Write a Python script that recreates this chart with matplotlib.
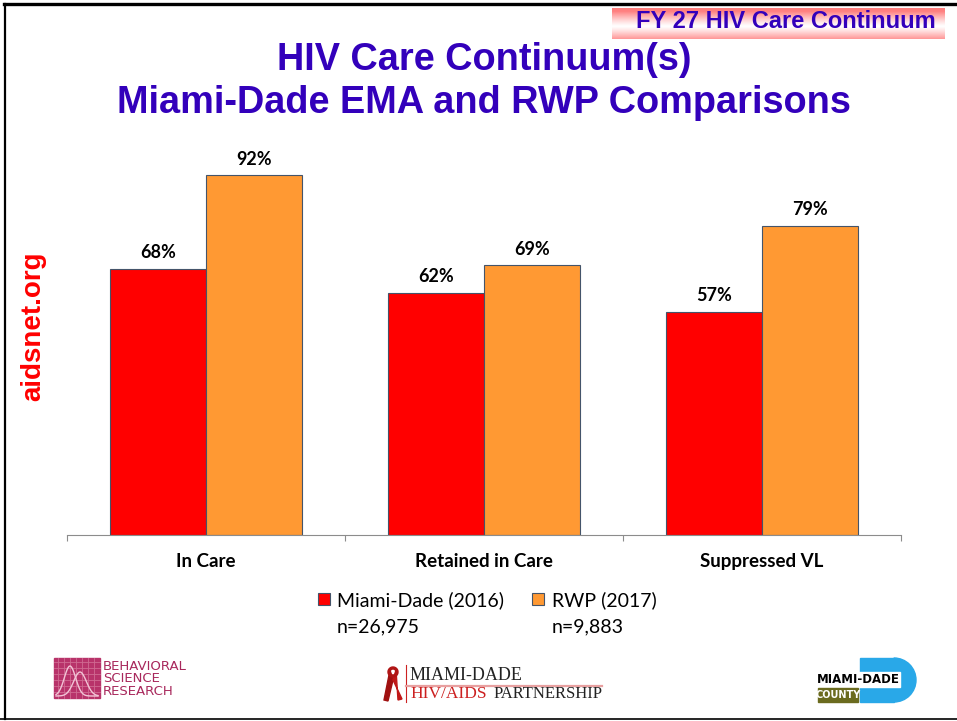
import matplotlib.pyplot as plt
import numpy as np
from matplotlib.patches import Rectangle, Polygon, Wedge
from matplotlib.lines import Line2D

categories = ["In Care", "Retained in Care", "Suppressed VL"]
miami_dade = [68, 62, 57]
rwp = [92, 69, 79]
series_names = ["Miami-Dade (2016)", "RWP (2017)"]
series_n = ["n=26,975", "n=9,883"]

W, H = 957, 721
fig = plt.figure(figsize=(W / 100, H / 100), dpi=100)


def fx(px):
    return px / W


def fy(py):
    return 1 - py / H


# slide frame
fig.add_artist(Line2D([fx(4), 1], [fy(4), fy(4)], color='black', lw=2.4))
fig.add_artist(Line2D([fx(5), fx(5)], [fy(4), fy(719)], color='black', lw=1.6))
fig.add_artist(Line2D([0, 1], [fy(719), fy(719)], color='black', lw=1.2))

# top-right banner with pink gradient
bax = fig.add_axes([fx(612), fy(39), fx(945) - fx(612), fy(8) - fy(39)])
t = np.linspace(0, 1, 60)
k = np.clip(1.2 * np.abs(1 - 1.7 * t), 0, 1)[:, None] ** 1.2
pink = np.array([1.0, 0.5, 0.5])
grad = (1 - k[..., None]) * np.ones(3) + k[..., None] * pink
grad = np.repeat(grad, 2, axis=1)
bax.imshow(grad, aspect='auto', extent=[0, 1, 0, 1])
bax.set_axis_off()
fig.text(fx(786), fy(22), "FY 27 HIV Care Continuum", ha='center', va='center',
         fontsize=17, fontweight='bold', color='#3300BB', family='Liberation Sans')

# titles
fig.text(fx(484), fy(60), "HIV Care Continuum(s)", ha='center', va='center',
         fontsize=27.3, fontweight='bold', color='#3300BB', family='Liberation Sans')
fig.text(fx(484), fy(103), "Miami-Dade EMA and RWP Comparisons", ha='center', va='center',
         fontsize=27.3, fontweight='bold', color='#3300BB', family='Liberation Sans')

fig.text(fx(33), fy(326), "aidsnet.org", rotation=90, ha='center', va='center',
         fontsize=20, fontweight='bold', color='#FF0000', family='Liberation Sans')

# chart
ax = fig.add_axes([fx(67), fy(535), fx(901) - fx(67), fy(144) - fy(535)])
x = np.arange(len(categories))
bw = 0.347
b1 = ax.bar(x - bw / 2, miami_dade, bw, color='#FF0000', edgecolor='#44546A',
            linewidth=0.8, label=series_names[0])
b2 = ax.bar(x + bw / 2, rwp, bw, color='#FF9933', edgecolor='#44546A',
            linewidth=0.8, label=series_names[1])
for bars in (b1, b2):
    for r in bars:
        ax.annotate("%d%%" % r.get_height(), (r.get_x() + r.get_width() / 2, r.get_height()),
                    xytext=(0, 5.5), textcoords='offset points', ha='center', va='bottom',
                    fontsize=13, fontweight='bold', family='Lato', color='black')

ax.set_xlim(-0.5, len(categories) - 0.5)
ax.set_ylim(0, 100)
for s in ('top', 'right', 'left'):
    ax.spines[s].set_visible(False)
ax.spines['bottom'].set_color('#8C8C8C')
ax.set_yticks([])
ax.set_xticks(np.arange(len(categories) + 1) - 0.5)
ax.set_xticklabels([])
ax.tick_params(axis='x', which='major', length=4, color='#8C8C8C', direction='out')
ax.set_xticks(x, minor=True)
ax.set_xticklabels(categories, minor=True, fontsize=13.5, fontweight='bold', family='Lato')
ax.tick_params(axis='x', which='minor', length=0, pad=13)

leg = ax.legend(loc='center', bbox_to_anchor=(fx(487 - 67) / (fx(901) - fx(67)), -0.166),
                ncol=2, frameon=False,
                prop={'family': 'Lato', 'size': 14}, handlelength=0.62, handleheight=0.62,
                handletextpad=0.38, columnspacing=1.45, borderpad=0)

# sample sizes under each legend entry
fig.canvas.draw()
inv = fig.transFigure.inverted()
for txt, n in zip(leg.get_texts(), series_n):
    bb = txt.get_window_extent()
    x0, y0 = inv.transform((bb.x0, bb.y0))
    fig.text(x0, y0 - 27 / H, n, ha='left', va='bottom', fontsize=14, family='Lato')

# logos (approximations)
lax = fig.add_axes([0, 0, 1, 1], zorder=-1)
lax.set_xlim(0, W)
lax.set_ylim(H, 0)
lax.set_axis_off()
lax.add_patch(Rectangle((54, 658), 46, 40, color='#B8336A'))
for gx in range(58, 100, 6):
    lax.add_line(Line2D([gx, gx], [658, 698], color='#D06A92', lw=0.6))
for gy in range(662, 698, 6):
    lax.add_line(Line2D([54, 100], [gy, gy], color='#D06A92', lw=0.6))
xs = np.linspace(56, 98, 60)
lax.plot(xs, 696 - 30 * np.exp(-((xs - 70) / 8) ** 2), color='#F2C4D6', lw=1)
lax.plot(xs, 696 - 24 * np.exp(-((xs - 80) / 9) ** 2), color='#F2C4D6', lw=1)
lax.text(103, 679, "BEHAVIORAL\nSCIENCE\nRESEARCH", ha='left', va='center', fontsize=9.5,
         color='#A8285C', family='Liberation Sans Narrow', linespacing=0.95)

lax.add_patch(Polygon([[390, 670], [384, 700], [388, 701], [393, 680]], color='#A01010'))
lax.add_patch(Polygon([[396, 670], [398, 700], [402, 699], [393, 680]], color='#C01818'))
lax.add_patch(Wedge((393, 672), 5, 0, 360, width=2, color='#B01515'))
lax.add_line(Line2D([406, 406], [665, 702], color='#CC2222', lw=0.8))
lax.text(410, 676, "MIAMI-DADE", ha='left', va='center', fontsize=13, color='#222222',
         family='Liberation Serif')
lax.add_line(Line2D([406, 602], [686, 686], color='#E8A0A0', lw=1.6))
lax.text(410, 694, "HIV/AIDS", ha='left', va='center', fontsize=12.5, color='#CC2020',
         family='Liberation Serif')
lax.text(494, 694, "PARTNERSHIP", ha='left', va='center', fontsize=12, color='#222222',
         family='Liberation Serif')

lax.add_patch(Rectangle((860, 658), 34, 44, color='#29A8E8'))
lax.add_patch(Wedge((894, 680), 22, -90, 90, color='#29A8E8'))
lax.add_patch(Rectangle((818, 672), 82, 15, color='white'))
lax.text(858, 679.5, "MIAMI-DADE", ha='center', va='center', fontsize=8.5, fontweight='bold',
         color='black', family='Liberation Sans Narrow')
lax.add_patch(Rectangle((818, 688), 40, 14, color='#6B6B1F'))
lax.text(838, 695, "COUNTY", ha='center', va='center', fontsize=7, fontweight='bold',
         color='white', family='Liberation Sans Narrow')

fig.savefig('out.png', dpi=100)
